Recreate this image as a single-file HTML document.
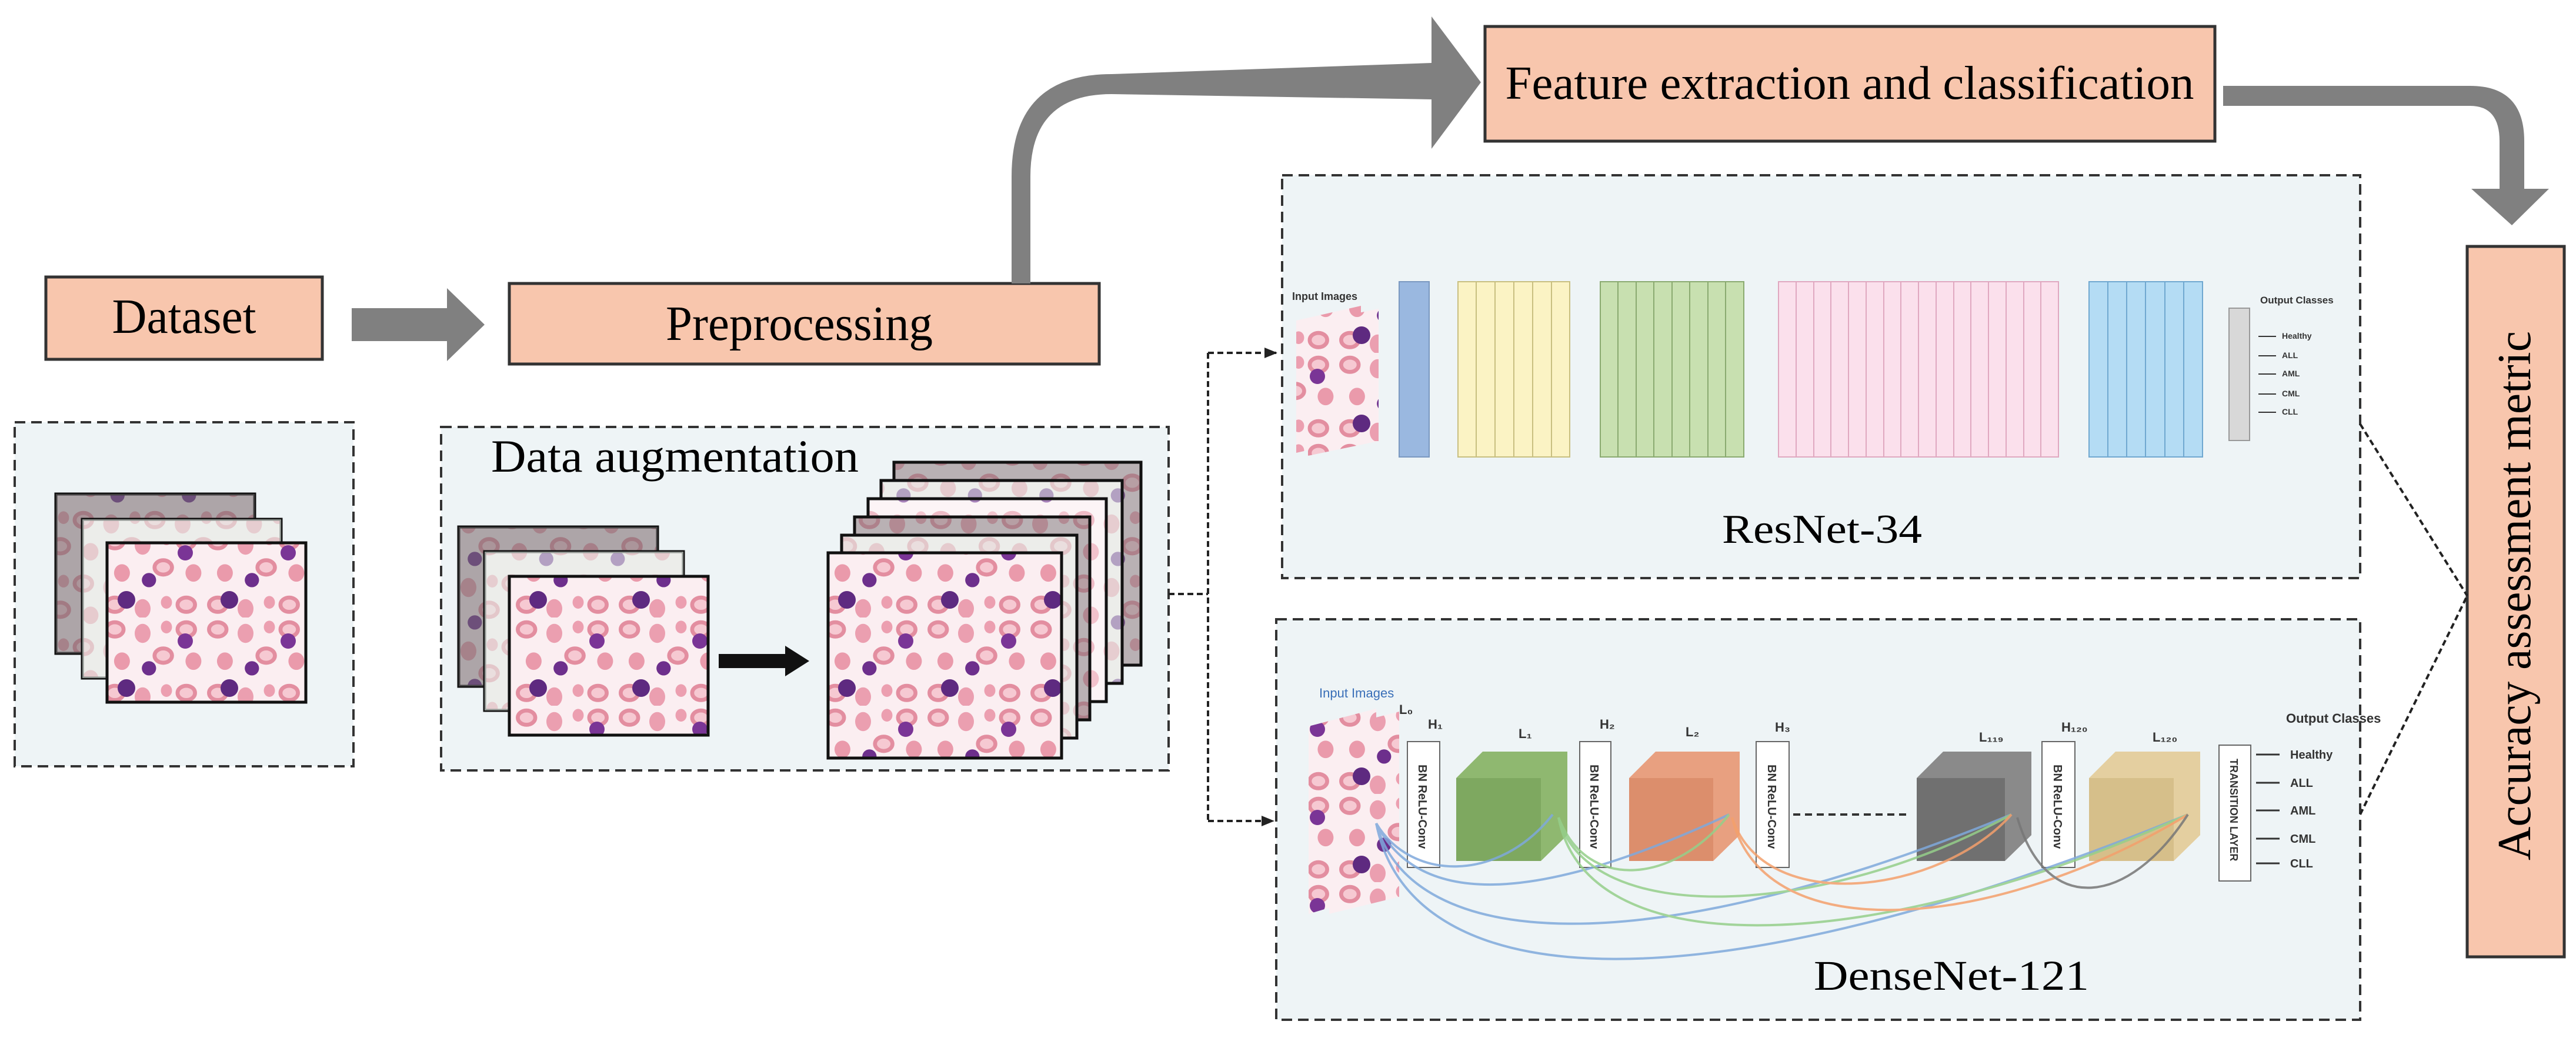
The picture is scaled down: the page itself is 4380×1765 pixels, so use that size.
<!DOCTYPE html>
<html><head><meta charset="utf-8"><style>html,body{margin:0;padding:0;background:#fff}svg{display:block}</style></head><body>
<svg width="4380" height="1765" viewBox="0 0 4380 1765" xmlns="http://www.w3.org/2000/svg" font-family="Liberation Serif, serif">
<defs>
<pattern id="cells" width="90" height="80" patternUnits="userSpaceOnUse" patternTransform="scale(1.35)">
<rect width="90" height="80" fill="#fbeef1"/>
<ellipse cx="15" cy="15" rx="11" ry="9" fill="#f6c9d2" stroke="#e38ea0" stroke-width="5"/>
<ellipse cx="50" cy="20" rx="10" ry="12" fill="#eb9fb0"/>
<ellipse cx="76" cy="48" rx="11" ry="9" fill="#f6c9d2" stroke="#e38ea0" stroke-width="5"/>
<ellipse cx="24" cy="55" rx="10" ry="11" fill="#ea9aab"/>
<circle cx="58" cy="64" r="9" fill="#6d2f8c"/>
<ellipse cx="80" cy="12" rx="7" ry="8" fill="#ec9fb0"/>
</pattern>
<pattern id="cells2" width="175" height="150" patternUnits="userSpaceOnUse">
<rect width="175" height="150" fill="url(#cells)"/>
<circle cx="40" cy="120" r="15" fill="#5e2a80"/>
<circle cx="140" cy="40" r="13" fill="#7a3596"/>
</pattern>
<marker id="ah" markerWidth="22" markerHeight="18" refX="20" refY="9" orient="auto" markerUnits="userSpaceOnUse"><path d="M0,0 L22,9 L0,18Z" fill="#222"/></marker>
</defs>

<rect x="78" y="471" width="470" height="140" fill="#f8c6ad" stroke="#333" stroke-width="5"/>
<text x="313" y="566" font-size="84" text-anchor="middle" textLength="245" lengthAdjust="spacingAndGlyphs">Dataset</text>
<path d="M598,524 L760,524 L760,490 L824,552 L760,614 L760,580 L598,580Z" fill="#808080"/>
<rect x="866" y="482" width="1003" height="137" fill="#f8c6ad" stroke="#333" stroke-width="5"/>
<text x="1359" y="578" font-size="84" text-anchor="middle" textLength="454" lengthAdjust="spacingAndGlyphs">Preprocessing</text>

<path d="M1720,482 L1720,300 Q1720,126 1890,126 L2434,107 L2434,28 L2518,140 L2434,253 L2434,169 L1890,160 Q1752,160 1752,300 L1752,482Z" fill="#808080"/>
<rect x="2525" y="45" width="1241" height="195" fill="#f8c6ad" stroke="#333" stroke-width="5"/>
<text x="3145" y="168" font-size="80" text-anchor="middle" textLength="1171" lengthAdjust="spacingAndGlyphs">Feature extraction and classification</text>
<path d="M3780,146 L4200,146 Q4292,146 4292,240 L4292,321 L4334,321 L4271,383 L4202,321 L4250,321 L4250,240 Q4250,180 4200,180 L3780,180Z" fill="#808080"/>
<rect x="4195" y="419" width="165" height="1208" fill="#f8c6ad" stroke="#333" stroke-width="5"/>
<text transform="translate(4302,1013) rotate(-90)" font-size="80" text-anchor="middle" textLength="900" lengthAdjust="spacingAndGlyphs">Accuracy assessment metric</text>

<rect x="25" y="718" width="576" height="585" fill="#eef4f6" stroke="#333" stroke-width="4" stroke-dasharray="18 10"/>
<rect x="750" y="726" width="1237" height="584" fill="#eef4f6" stroke="#333" stroke-width="4" stroke-dasharray="18 10"/>
<rect x="2180" y="298" width="1833" height="685" fill="#eef4f6" stroke="#333" stroke-width="4" stroke-dasharray="18 10"/>
<rect x="2170" y="1053" width="1843" height="681" fill="#eef4f6" stroke="#333" stroke-width="4" stroke-dasharray="18 10"/>

<rect x="95" y="840" width="338" height="271" fill="url(#cells)" stroke="#111" stroke-width="5"/>
<rect x="95" y="840" width="338" height="271" fill="#6e6a6c" opacity=".55"/>
<rect x="140" y="883" width="338" height="270" fill="url(#cells)" stroke="#111" stroke-width="5"/>
<rect x="140" y="883" width="338" height="270" fill="#e3ede6" opacity=".6"/>
<rect x="182" y="923" width="338" height="271" fill="url(#cells2)" stroke="#111" stroke-width="5"/>

<text x="835" y="802" font-size="78" textLength="625" lengthAdjust="spacingAndGlyphs">Data augmentation</text>
<rect x="780" y="896" width="338" height="271" fill="url(#cells)" stroke="#111" stroke-width="5"/>
<rect x="780" y="896" width="338" height="271" fill="#6e6a6c" opacity=".55"/>
<rect x="824" y="938" width="338" height="270" fill="url(#cells)" stroke="#111" stroke-width="5"/>
<rect x="824" y="938" width="338" height="270" fill="#e3ede6" opacity=".6"/>
<rect x="866" y="980" width="338" height="270" fill="url(#cells2)" stroke="#111" stroke-width="5"/>
<path d="M1222,1112 L1335,1112 L1335,1098 L1376,1124 L1335,1150 L1335,1136 L1222,1136Z" fill="#111"/>

<g stroke="#111" stroke-width="5">
<rect x="1520" y="786" width="420" height="345" fill="url(#cells)"/>
<rect x="1520" y="786" width="420" height="345" fill="#7a7678" opacity=".5"/>
<rect x="1498" y="817" width="410" height="345" fill="url(#cells)"/>
<rect x="1498" y="817" width="410" height="345" fill="#e3ede6" opacity=".6"/>
<rect x="1476" y="848" width="405" height="345" fill="url(#cells)"/>
<rect x="1476" y="848" width="405" height="345" fill="#fff" opacity=".4"/>
<rect x="1453" y="879" width="400" height="345" fill="url(#cells)"/>
<rect x="1453" y="879" width="400" height="345" fill="#7a7678" opacity=".5"/>
<rect x="1431" y="910" width="400" height="345" fill="url(#cells)"/>
<rect x="1431" y="910" width="400" height="345" fill="#e3ede6" opacity=".6"/>
<rect x="1408" y="940" width="397" height="349" fill="url(#cells2)"/>
</g>

<g stroke="#222" stroke-width="4" stroke-dasharray="10 6" fill="none">
<path d="M1987,1010 L2054,1010"/>
<path d="M2054,600 L2054,1396"/>
<path d="M2054,600 L2170,600" marker-end="url(#ah)"/>
<path d="M2054,1396 L2165,1396" marker-end="url(#ah)"/>
<path d="M4013,721 L4195,1013"/>
<path d="M4013,1385 L4195,1013"/>
</g>

<g font-family="Liberation Sans, sans-serif">
<text x="2197" y="510" font-size="18" font-weight="bold" fill="#333">Input Images</text>
<path d="M2204,545 L2314,520 L2314,745 L2204,770Z" fill="url(#cells2)"/>
<path d="M2224,550 L2344,525 L2344,750 L2224,775Z" fill="url(#cells2)"/>
<rect x="2379" y="479" width="51" height="298" fill="#9ab8e0" stroke="#7a98c0" stroke-width="2"/>
<g stroke="#c8bf80" stroke-width="2" fill="#fbf3c4">
<rect x="2479" y="479" width="190" height="298"/>
<path d="M2510,479V777M2542,479V777M2574,479V777M2606,479V777M2638,479V777" fill="none"/>
</g>
<g stroke="#8aaa70" stroke-width="2" fill="#c8e0b0">
<rect x="2721" y="479" width="244" height="298"/>
<path d="M2751,479V777M2782,479V777M2812,479V777M2843,479V777M2873,479V777M2904,479V777M2934,479V777" fill="none"/>
</g>
<g stroke="#e0a8c0" stroke-width="2" fill="#fbe0ec">
<rect x="3024" y="479" width="476" height="298"/>
<path d="M3054,479V777M3084,479V777M3113,479V777M3143,479V777M3173,479V777M3203,479V777M3232,479V777M3262,479V777M3292,479V777M3322,479V777M3351,479V777M3381,479V777M3411,479V777M3441,479V777M3470,479V777" fill="none"/>
</g>
<g stroke="#70a8d0" stroke-width="2" fill="#b4dcf4">
<rect x="3552" y="479" width="193" height="298"/>
<path d="M3584,479V777M3616,479V777M3648,479V777M3681,479V777M3713,479V777" fill="none"/>
</g>
<rect x="3790" y="524" width="35" height="225" fill="#d8d8d8" stroke="#999" stroke-width="2"/>
<text x="3843" y="516" font-size="17" font-weight="bold" fill="#333">Output Classes</text>
<g font-size="14" font-weight="bold" fill="#333" stroke="none">
<text x="3880" y="576">Healthy</text><text x="3880" y="609">ALL</text><text x="3880" y="640">AML</text><text x="3880" y="674">CML</text><text x="3880" y="705">CLL</text>
</g>
<path d="M3840,572h30M3840,605h30M3840,636h30M3840,670h30M3840,701h30" stroke="#333" stroke-width="2"/>
</g>
<text x="3098" y="923" font-size="70" text-anchor="middle" textLength="340" lengthAdjust="spacingAndGlyphs">ResNet-34</text>

<g font-family="Liberation Sans, sans-serif">
<text x="2243" y="1186" font-size="22" fill="#3a6fb8">Input Images</text>
<path d="M2225,1235 L2340,1205 L2340,1520 L2225,1554Z" fill="url(#cells2)"/>
<path d="M2260,1240 L2379,1210 L2379,1525 L2260,1554Z" fill="url(#cells2)"/>
<g fill="#fff" stroke="#666" stroke-width="2">
<rect x="2393" y="1261" width="55" height="214"/><rect x="2686" y="1261" width="53" height="214"/>
<rect x="2986" y="1261" width="56" height="214"/><rect x="3472" y="1261" width="56" height="214"/>
<rect x="3773" y="1267" width="54" height="231"/>
</g>
<g font-size="20" font-weight="bold" fill="#333">
<text transform="translate(2412,1300) rotate(90)">BN ReLU-Conv</text>
<text transform="translate(2704,1300) rotate(90)">BN ReLU-Conv</text>
<text transform="translate(3006,1300) rotate(90)">BN ReLU-Conv</text>
<text transform="translate(3492,1300) rotate(90)">BN ReLU-Conv</text>
<text transform="translate(3792,1290) rotate(90)" font-size="18">TRANSITION LAYER</text>
</g>
<g stroke="none">
<path d="M2476,1323 L2521,1278 L2665,1278 L2665,1420 L2620,1464 L2476,1464Z" fill="#8fb870"/>
<rect x="2476" y="1323" width="144" height="141" fill="#7ea860"/>
<path d="M2770,1323 L2815,1278 L2958,1278 L2958,1420 L2913,1464 L2770,1464Z" fill="#e8a080"/>
<rect x="2770" y="1323" width="143" height="141" fill="#dc8e6c"/>
<path d="M3259,1323 L3304,1278 L3454,1278 L3454,1420 L3409,1464 L3259,1464Z" fill="#8a8a8a"/>
<rect x="3259" y="1323" width="150" height="141" fill="#707070"/>
<path d="M3552,1323 L3597,1278 L3741,1278 L3741,1420 L3696,1464 L3552,1464Z" fill="#e4cfa0"/>
<rect x="3552" y="1323" width="144" height="141" fill="#d6bf8a"/>
</g>
<path d="M3049,1385 L3245,1385" stroke="#333" stroke-width="4" stroke-dasharray="12 8"/>
<g font-size="22" font-weight="bold" fill="#333">
<text x="2379" y="1214">L₀</text><text x="2428" y="1239">H₁</text><text x="2582" y="1255">L₁</text>
<text x="2720" y="1239">H₂</text><text x="2866" y="1252">L₂</text><text x="3018" y="1244">H₃</text>
<text x="3365" y="1261">L₁₁₉</text><text x="3505" y="1244">H₁₂₀</text><text x="3660" y="1261">L₁₂₀</text>
<text x="3887" y="1229">Output Classes</text>
</g>
<g font-size="20" font-weight="bold" fill="#333">
<text x="3894" y="1290">Healthy</text><text x="3894" y="1338">ALL</text><text x="3894" y="1385">AML</text><text x="3894" y="1433">CML</text><text x="3894" y="1475">CLL</text>
</g>
<path d="M3836,1283h40M3836,1331h40M3836,1378h40M3836,1426h40M3836,1468h40" stroke="#333" stroke-width="3"/>
<g fill="none" stroke-width="4" opacity=".85">
<path d="M2340,1400 C2400,1700 2900,1720 3720,1385" stroke="#7fa9dc"/>
<path d="M2340,1400 C2400,1620 2800,1640 3420,1385" stroke="#7fa9dc"/>
<path d="M2340,1400 C2420,1560 2650,1520 2940,1385" stroke="#7fa9dc"/>
<path d="M2340,1400 C2400,1500 2550,1500 2640,1385" stroke="#7fa9dc"/>
<path d="M2650,1390 C2700,1650 3200,1620 3720,1385" stroke="#95cf8a"/>
<path d="M2650,1390 C2700,1580 3100,1560 3420,1385" stroke="#95cf8a"/>
<path d="M2650,1390 C2700,1520 2850,1500 2940,1385" stroke="#95cf8a"/>
<path d="M2945,1390 C3000,1620 3400,1580 3720,1385" stroke="#f4a06c"/>
<path d="M2945,1390 C3000,1560 3300,1520 3420,1385" stroke="#f4a06c"/>
<path d="M3430,1390 C3480,1560 3620,1540 3720,1385" stroke="#777"/>
</g>
</g>
<text x="3318" y="1683" font-size="72" text-anchor="middle" textLength="468" lengthAdjust="spacingAndGlyphs">DenseNet-121</text>
</svg>
</body></html>
